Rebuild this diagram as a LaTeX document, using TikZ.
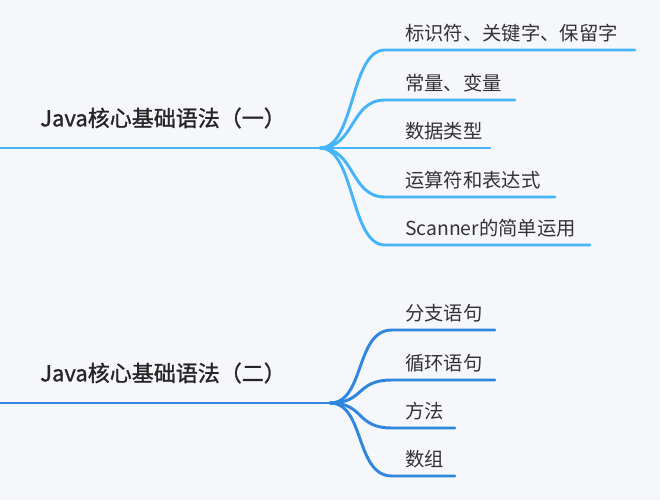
\documentclass[tikz,border=0pt]{standalone}
\usepackage{fontspec}
\setmainfont{Noto Sans CJK SC}[BoldFeatures={FakeBold=1.2},BoldFont={Noto Sans CJK SC}]
\begin{document}
\begin{tikzpicture}[x=0.75pt,y=-0.75pt,
  leaf/.style={anchor=south west,inner sep=0pt,text=black!80,font=\fontsize{14.5}{16}\selectfont},
  root/.style={anchor=west,inner sep=0pt,text=black!85,font=\fontsize{16.5}{19}\selectfont\bfseries},
  ln/.style={line width=2.2pt,line cap=round}]
\definecolor{ca}{HTML}{45B4F9}
\definecolor{cb}{HTML}{2E86DE}
\fill[fill={rgb,255:red,246;green,247;blue,251}] (0,0) rectangle (660,500);
\useasboundingbox (0,0) rectangle (660,500);
% top
\node[root] (r1) at (40,118) {Java核心基础语法（一）};
\coordinate (h1) at (320,148);
\draw[ln,ca] (0,148) -- (h1);
\foreach \n/\y/\e/\t in {a/50/635/标识符、关键字、保留字,b/100/515/常量、变量,c/148/490/数据类型,d/197/555/运算符和表达式,e/245/590/Scanner的简单运用}{
  \node[leaf] (t\n) at (405,\y-8) {\t};
  \coordinate (s\n) at (385,\y);
  \coordinate (f\n) at (\e,\y);
  \draw[ln,ca] (h1) .. controls (355,148) and (350,\y) .. (s\n) -- (f\n);
}
% bottom
\node[root] (r2) at (40,373) {Java核心基础语法（二）};
\coordinate (h2) at (330,403);
\draw[ln,cb] (0,403) -- (h2);
\foreach \n/\y/\e/\t in {p/330/495/分支语句,q/380/495/循环语句,r/428/455/方法,s/476/455/数组}{
  \node[leaf] (t\n) at (405,\y-8) {\t};
  \coordinate (s\n) at (392,\y);
  \coordinate (f\n) at (\e,\y);
  \draw[ln,cb] (h2) .. controls (365,403) and (355,\y) .. (s\n) -- (f\n);
}
\end{tikzpicture}
\end{document}
